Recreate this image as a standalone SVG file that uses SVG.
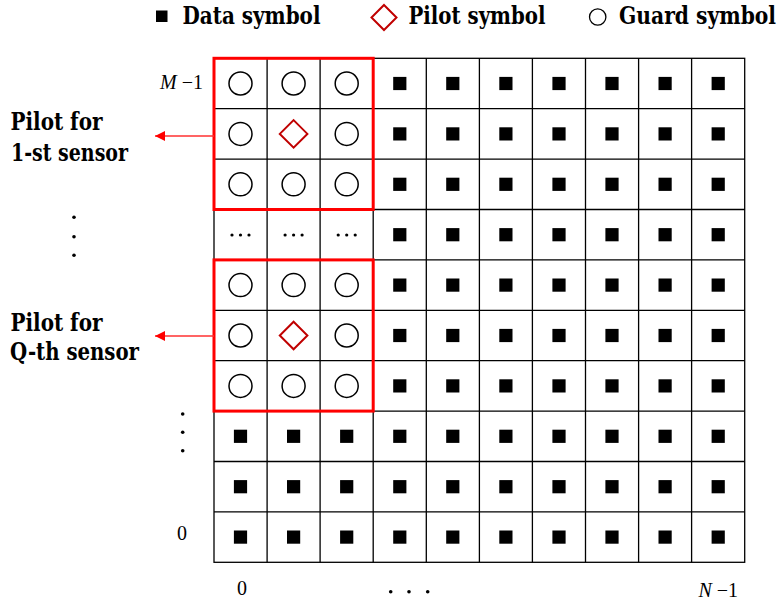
<svg xmlns="http://www.w3.org/2000/svg" width="783" height="605" viewBox="0 0 783 605">
<style>
.grid{stroke:#000;stroke-width:1.3;fill:none}
.g{fill:none;stroke:#000;stroke-width:1.5}
.p{fill:none;stroke:#c00000;stroke-width:2}
.blk{fill:none;stroke:#ff0000;stroke-width:3}
.arr{stroke:#ff3030;stroke-width:1.5;fill:none}
</style>
<defs>
<rect id="d" x="-6.6" y="-6.6" width="13.2" height="13.2" fill="#000"/>
<circle id="c" r="11.5" class="g"/>
<path id="p" d="M0,-13.8 L13.8,0 L0,13.8 L-13.8,0 Z" class="p"/>
<g id="dots" fill="#000"><circle cx="-8.5" r="1.6"/><circle r="1.6"/><circle cx="8.5" r="1.6"/></g>
<marker id="ah" markerWidth="10" markerHeight="10" refX="10" refY="5" orient="auto" markerUnits="userSpaceOnUse"><path d="M0,0 L10,5 L0,10 Z" fill="#ff0000"/></marker>
</defs>
<rect width="783" height="605" fill="#fff"/>

<g id="legend" font-family="DejaVu Serif, serif" font-weight="bold" font-size="23.5" fill="#000">
<rect x="156" y="10.5" width="11.5" height="11.5" fill="#000"/>
<text x="182.5" y="24" textLength="138" lengthAdjust="spacingAndGlyphs">Data symbol</text>
<path d="M384,5 L396.5,17.5 L384,30 L371.5,17.5 Z" fill="none" stroke="#c00000" stroke-width="2"/>
<text x="408.5" y="24" textLength="137" lengthAdjust="spacingAndGlyphs">Pilot symbol</text>
<circle cx="597.7" cy="17" r="8.2" fill="none" stroke="#000" stroke-width="1.3"/>
<text x="619" y="24" textLength="157" lengthAdjust="spacingAndGlyphs">Guard symbol</text>
</g>

<g id="grid" class="grid">
<rect x="214" y="58.3" width="530.7" height="504"/>
<path d="M267.1,58.3V562.3M320.1,58.3V562.3M373.2,58.3V562.3M426.3,58.3V562.3M479.4,58.3V562.3M532.4,58.3V562.3M585.5,58.3V562.3M638.6,58.3V562.3M691.6,58.3V562.3"/>
<path d="M214,108.7H744.7M214,159.1H744.7M214,209.5H744.7M214,259.9H744.7M214,310.3H744.7M214,360.7H744.7M214,411.1H744.7M214,461.5H744.7M214,511.9H744.7"/>
</g>

<g id="data-symbols">
<use href="#d" x="399.8" y="83.5"/><use href="#d" x="452.8" y="83.5"/><use href="#d" x="505.9" y="83.5"/><use href="#d" x="559" y="83.5"/><use href="#d" x="612" y="83.5"/><use href="#d" x="665.1" y="83.5"/><use href="#d" x="718.2" y="83.5"/>
<use href="#d" x="399.8" y="133.9"/><use href="#d" x="452.8" y="133.9"/><use href="#d" x="505.9" y="133.9"/><use href="#d" x="559" y="133.9"/><use href="#d" x="612" y="133.9"/><use href="#d" x="665.1" y="133.9"/><use href="#d" x="718.2" y="133.9"/>
<use href="#d" x="399.8" y="184.3"/><use href="#d" x="452.8" y="184.3"/><use href="#d" x="505.9" y="184.3"/><use href="#d" x="559" y="184.3"/><use href="#d" x="612" y="184.3"/><use href="#d" x="665.1" y="184.3"/><use href="#d" x="718.2" y="184.3"/>
<use href="#d" x="399.8" y="234.7"/><use href="#d" x="452.8" y="234.7"/><use href="#d" x="505.9" y="234.7"/><use href="#d" x="559" y="234.7"/><use href="#d" x="612" y="234.7"/><use href="#d" x="665.1" y="234.7"/><use href="#d" x="718.2" y="234.7"/>
<use href="#d" x="399.8" y="285.1"/><use href="#d" x="452.8" y="285.1"/><use href="#d" x="505.9" y="285.1"/><use href="#d" x="559" y="285.1"/><use href="#d" x="612" y="285.1"/><use href="#d" x="665.1" y="285.1"/><use href="#d" x="718.2" y="285.1"/>
<use href="#d" x="399.8" y="335.5"/><use href="#d" x="452.8" y="335.5"/><use href="#d" x="505.9" y="335.5"/><use href="#d" x="559" y="335.5"/><use href="#d" x="612" y="335.5"/><use href="#d" x="665.1" y="335.5"/><use href="#d" x="718.2" y="335.5"/>
<use href="#d" x="399.8" y="385.9"/><use href="#d" x="452.8" y="385.9"/><use href="#d" x="505.9" y="385.9"/><use href="#d" x="559" y="385.9"/><use href="#d" x="612" y="385.9"/><use href="#d" x="665.1" y="385.9"/><use href="#d" x="718.2" y="385.9"/>
<use href="#d" x="240.5" y="436.3"/><use href="#d" x="293.6" y="436.3"/><use href="#d" x="346.7" y="436.3"/><use href="#d" x="399.8" y="436.3"/><use href="#d" x="452.8" y="436.3"/><use href="#d" x="505.9" y="436.3"/><use href="#d" x="559" y="436.3"/><use href="#d" x="612" y="436.3"/><use href="#d" x="665.1" y="436.3"/><use href="#d" x="718.2" y="436.3"/>
<use href="#d" x="240.5" y="486.7"/><use href="#d" x="293.6" y="486.7"/><use href="#d" x="346.7" y="486.7"/><use href="#d" x="399.8" y="486.7"/><use href="#d" x="452.8" y="486.7"/><use href="#d" x="505.9" y="486.7"/><use href="#d" x="559" y="486.7"/><use href="#d" x="612" y="486.7"/><use href="#d" x="665.1" y="486.7"/><use href="#d" x="718.2" y="486.7"/>
<use href="#d" x="240.5" y="537.1"/><use href="#d" x="293.6" y="537.1"/><use href="#d" x="346.7" y="537.1"/><use href="#d" x="399.8" y="537.1"/><use href="#d" x="452.8" y="537.1"/><use href="#d" x="505.9" y="537.1"/><use href="#d" x="559" y="537.1"/><use href="#d" x="612" y="537.1"/><use href="#d" x="665.1" y="537.1"/><use href="#d" x="718.2" y="537.1"/>
</g>

<g id="pilot-block-1">
<use href="#c" x="240.5" y="83.5"/><use href="#c" x="293.6" y="83.5"/><use href="#c" x="346.7" y="83.5"/>
<use href="#c" x="240.5" y="133.9"/><use href="#p" x="293.6" y="133.9"/><use href="#c" x="346.7" y="133.9"/>
<use href="#c" x="240.5" y="184.3"/><use href="#c" x="293.6" y="184.3"/><use href="#c" x="346.7" y="184.3"/>
<rect class="blk" x="214" y="58.3" width="159.2" height="151.2"/>
</g>

<g id="ellipsis-row">
<use href="#dots" x="240.5" y="235"/><use href="#dots" x="293.6" y="235"/><use href="#dots" x="346.7" y="235"/>
</g>

<g id="pilot-block-q">
<use href="#c" x="240.5" y="285.1"/><use href="#c" x="293.6" y="285.1"/><use href="#c" x="346.7" y="285.1"/>
<use href="#c" x="240.5" y="335.5"/><use href="#p" x="293.6" y="335.5"/><use href="#c" x="346.7" y="335.5"/>
<use href="#c" x="240.5" y="385.9"/><use href="#c" x="293.6" y="385.9"/><use href="#c" x="346.7" y="385.9"/>
<rect class="blk" x="214" y="259.9" width="159.2" height="151.2"/>
</g>

<g id="connectors">
<line class="arr" x1="214" y1="136" x2="155" y2="136" marker-end="url(#ah)"/>
<line class="arr" x1="214" y1="336" x2="155" y2="336" marker-end="url(#ah)"/>
</g>

<g id="label-1" font-family="DejaVu Serif, serif" font-weight="bold" font-size="23.5" fill="#000">
<text x="10.5" y="130" textLength="92" lengthAdjust="spacingAndGlyphs">Pilot for</text>
<text x="11" y="161" textLength="117" lengthAdjust="spacingAndGlyphs">1-st sensor</text>
</g>
<g id="label-q" font-family="DejaVu Serif, serif" font-weight="bold" font-size="23.5" fill="#000">
<text x="10.5" y="331" textLength="92" lengthAdjust="spacingAndGlyphs">Pilot for</text>
<text x="10" y="360" textLength="129" lengthAdjust="spacingAndGlyphs">Q-th sensor</text>
</g>

<g id="axis-labels" font-family="Liberation Serif, Times New Roman, serif" font-size="20" fill="#000">
<text x="203" y="89" text-anchor="end"><tspan font-style="italic">M</tspan>  −1</text>
<text x="182" y="540" text-anchor="middle">0</text>
<text x="242" y="595" text-anchor="middle">0</text>
<text x="738" y="597" text-anchor="end"><tspan font-style="italic">N</tspan>  −1</text>
<circle cx="74" cy="217.3" r="1.8"/><circle cx="74" cy="236.7" r="1.8"/><circle cx="74" cy="255.3" r="1.8"/>
<circle cx="182.7" cy="414" r="1.8"/><circle cx="182.7" cy="432.3" r="1.8"/><circle cx="182.7" cy="450.7" r="1.8"/>
<circle cx="390.7" cy="591.7" r="1.8"/><circle cx="409" cy="591.7" r="1.8"/><circle cx="427.7" cy="591.7" r="1.8"/>
</g>
</svg>
